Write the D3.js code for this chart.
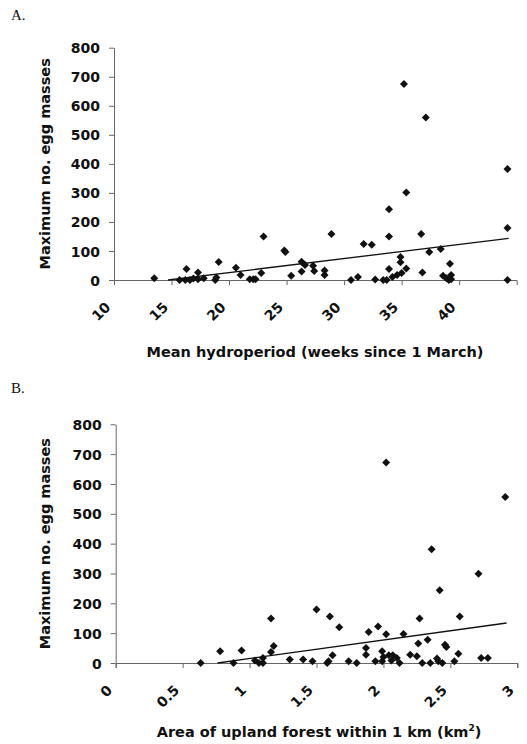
<!DOCTYPE html>
<html>
<head>
<meta charset="utf-8">
<script src="https://cdn.jsdelivr.net/npm/d3@7"></script>
<style>
  body { margin: 0; background: #fff; }
  svg { display: block; }
  .tick text { font-family: "DejaVu Sans", sans-serif; font-weight: bold; font-size: 14px; fill: #111; }
  .title { font-family: "DejaVu Sans", sans-serif; font-weight: bold; font-size: 14.5px; fill: #111; }
  .panel-label { font-family: "Liberation Serif", serif; font-size: 15px; fill: #111; }
</style>
</head>
<body>
<svg id="vis" width="527" height="744"></svg>
<script>
// panel A: hydroperiod (weeks) vs max egg masses
const hydroX = [13.5, 16.3, 15.7, 16.2, 16.6, 16.9, 17.3, 17.3, 17.8, 18.8, 18.9, 19.1,
  20.6, 21.0, 21.8, 22.1, 22.3, 22.8, 23.0, 24.8, 24.9, 25.4, 26.3, 26.3, 26.6, 27.3,
  27.4, 28.3, 28.3, 28.9, 30.6, 31.2, 31.7, 32.4, 32.7, 33.4, 33.7, 33.9, 33.9, 33.9,
  34.2, 34.6, 34.9, 34.9, 35.0, 35.2, 35.4, 35.4, 36.7, 36.8, 37.1, 37.4, 38.4, 38.6,
  38.9, 39.1, 39.2, 39.3, 39.3, 44.2, 44.2, 44.2];
const hydroY = [6, 38, 0, 0, 0, 5, 26, 3, 6, 0, 9, 62,
  42, 17, 3, 3, 3, 24, 150, 102, 96, 15, 63, 29, 52, 49,
  31, 33, 17, 158, 0, 10, 124, 121, 2, 0, 0, 244, 150, 38,
  10, 17, 79, 61, 24, 675, 301, 40, 158, 26, 560, 96, 107, 15,
  6, 0, 56, 17, 3, 382, 179, 0];
const hydroTrend = [[14.7, 0], [44.3, 143]];
const hydroTicks = [10, 15, 20, 25, 30, 35, 40];

// panel B: upland forest area (km2) vs max egg masses
const forestX = [0.635, 0.78, 0.88, 0.94, 1.04, 1.07, 1.10, 1.10, 1.16, 1.16, 1.18, 1.30,
  1.40, 1.47, 1.50, 1.58, 1.59, 1.60, 1.62, 1.67, 1.74, 1.80, 1.87, 1.87, 1.89, 1.94,
  1.96, 1.99, 1.99, 2.00, 2.02, 2.02, 2.04, 2.06, 2.07, 2.10, 2.12, 2.15, 2.20, 2.25,
  2.26, 2.27, 2.29, 2.33, 2.35, 2.36, 2.40, 2.41, 2.42, 2.44, 2.46, 2.47, 2.53, 2.56,
  2.57, 2.71, 2.73, 2.78, 2.91];
const forestY = [0, 39, 0, 42, 8, 0, 17, 0, 149, 37, 57, 12,
  12, 6, 179, 0, 6, 156, 26, 120, 6, 0, 50, 28, 104, 6,
  122, 6, 39, 20, 672, 96, 26, 8, 26, 17, 0, 97, 28, 23,
  65, 149, 0, 78, 0, 381, 15, 6, 244, 0, 61, 54, 6, 31,
  156, 299, 17, 17, 556];
const forestTrend = [[0.76, 0], [2.92, 134]];
const forestTicks = [0, 0.5, 1, 1.5, 2, 2.5, 3];

const eggTicks = [0, 100, 200, 300, 400, 500, 600, 700, 800];

const svg = d3.select('#vis');

function drawPanel(opts) {
  const g = svg.append('g');
  const x = d3.scaleLinear().domain(opts.xDomain).range([opts.left, opts.right]);
  const y = d3.scaleLinear().domain([0, 800]).range([opts.bottom, opts.top]);

  g.append('text').attr('class', 'panel-label')
    .attr('x', 11).attr('y', opts.labelY).text(opts.label);

  // y axis
  const yAxis = g.append('g')
    .attr('transform', `translate(${opts.left},0)`)
    .call(d3.axisLeft(y).tickValues(eggTicks).tickSize(5).tickPadding(9).tickSizeOuter(0));
  yAxis.selectAll('line, path').attr('stroke', '#666');
  yAxis.selectAll('text').attr('dy', '0.36em');

  // x axis, labels slanted like the excel original
  const xAxis = g.append('g')
    .attr('transform', `translate(0,${opts.bottom})`)
    .call(d3.axisBottom(x).tickValues(opts.ticks).tickSize(5).tickSizeOuter(5)
      .tickFormat(d3.format('')));
  xAxis.selectAll('line, path').attr('stroke', '#666');
  xAxis.selectAll('.tick text')
    .attr('text-anchor', 'end')
    .attr('dy', null)
    .attr('y', 0)
    .attr('transform', 'translate(-3,28) rotate(-45)');

  // trend line
  g.append('path')
    .datum(opts.trend)
    .attr('fill', 'none')
    .attr('stroke', '#111')
    .attr('stroke-width', 1.3)
    .attr('d', d3.line().x(d => x(d[0])).y(d => y(d[1])));

  // points
  const diamond = d3.symbol().type(d3.symbolSquare).size(32);
  g.append('g').selectAll('path')
    .data(d3.zip(opts.xs, opts.ys))
    .join('path')
      .attr('d', diamond)
      .attr('fill', '#111')
      .attr('transform', d => `translate(${x(d[0])},${y(d[1])}) rotate(45)`);

  // axis titles
  g.append('text').attr('class', 'title')
    .attr('transform', `translate(50,${(opts.top + opts.bottom) / 2}) rotate(-90)`)
    .attr('text-anchor', 'middle')
    .text('Maximum no. egg masses');

  const xt = g.append('text').attr('class', 'title')
    .attr('x', opts.titleX).attr('y', opts.titleY)
    .attr('text-anchor', 'middle');
  opts.xTitle(xt);
}

drawPanel({
  label: 'A.', labelY: 20,
  xDomain: [10, 45], left: 114, right: 516.7, top: 47.7, bottom: 280,
  xs: hydroX, ys: hydroY, trend: hydroTrend, ticks: hydroTicks,
  titleX: 315, titleY: 357,
  xTitle: t => t.text('Mean hydroperiod (weeks since 1 March)')
});

drawPanel({
  label: 'B.', labelY: 393,
  xDomain: [0, 3], left: 115.7, right: 517.3, top: 424.3, bottom: 663,
  xs: forestX, ys: forestY, trend: forestTrend, ticks: forestTicks,
  titleX: 319, titleY: 737,
  xTitle: t => {
    t.append('tspan').text('Area of upland forest within 1 km (km');
    t.append('tspan').attr('dy', -6).attr('font-size', 9).text('2');
    t.append('tspan').attr('dy', 6).text(')');
  }
});
</script>
</body>
</html>
